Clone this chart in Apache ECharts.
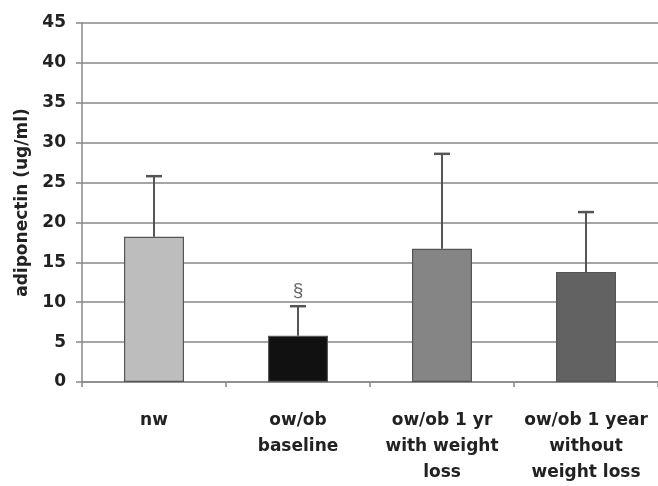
<!DOCTYPE html>
<html>
<head>
<meta charset="utf-8">
<script src="https://cdn.jsdelivr.net/npm/echarts@6/dist/echarts.min.js"></script>
<style>
  html, body { margin: 0; padding: 0; background: #fff; }
  #main { width: 658px; height: 486px; }
</style>
</head>
<body>
<div id="main"></div>
<script>
const groups = ['nw', 'ow/ob\nbaseline', 'ow/ob 1 yr\nwith weight\nloss', 'ow/ob 1 year\nwithout\nweight loss'];
const means = [18.2, 5.8, 16.7, 13.8];
const upper = [25.8, 9.5, 28.6, 21.3];
const signif = ['', '§', '', ''];
const barColors = ['#bdbdbd', '#111111', '#858585', '#626262'];

const dom = document.getElementById('main');
const myChart = echarts.init(dom);

const font = 'DejaVu Sans, sans-serif';

function renderErrorBar(params, api) {
  const i = params.dataIndex;
  const base = api.coord([i, api.value(1)]);
  const top = api.coord([i, api.value(2)]);
  const cap = 8;
  const children = [
    {
      type: 'line',
      shape: { x1: base[0], y1: base[1], x2: top[0], y2: top[1] },
      style: { stroke: '#555', lineWidth: 2 }
    },
    {
      type: 'line',
      shape: { x1: top[0] - cap, y1: top[1], x2: top[0] + cap, y2: top[1] },
      style: { stroke: '#555', lineWidth: 2.5 }
    }
  ];
  if (signif[i]) {
    children.push({
      type: 'text',
      style: {
        text: signif[i], x: top[0], y: top[1] - 6,
        align: 'center', verticalAlign: 'bottom',
        fill: '#666', font: '19px Liberation Sans, Arial, sans-serif'
      }
    });
  }
  return { type: 'group', children: children };
}

myChart.setOption({
  animation: false,
  grid: { left: 82, width: 580, top: 23, bottom: 94 },
  xAxis: {
    type: 'category',
    data: groups,
    axisLine: { lineStyle: { color: '#888', width: 1.5 } },
    axisTick: { show: true, length: 5, lineStyle: { color: '#888', width: 1.5 } },
    axisLabel: {
      interval: 0, margin: 26, color: '#222',
      fontFamily: font, fontWeight: 'bold', fontSize: 17, lineHeight: 26
    }
  },
  yAxis: {
    type: 'value',
    min: 0, max: 45, interval: 5,
    name: 'adiponectin (ug/ml)',
    nameLocation: 'middle',
    nameGap: 50,
    nameTextStyle: { color: '#222', fontFamily: font, fontWeight: 'bold', fontSize: 17 },
    axisLine: { show: true, lineStyle: { color: '#888', width: 1.5 } },
    axisTick: { show: true, length: 6, lineStyle: { color: '#888', width: 1.5 } },
    axisLabel: { margin: 16, color: '#222', fontFamily: font, fontWeight: 'bold', fontSize: 17 },
    splitLine: { lineStyle: { color: '#a5a5a5', width: 2 } }
  },
  series: [
    {
      type: 'bar',
      barWidth: 60,
      data: means.map((v, i) => ({
        value: v,
        itemStyle: { color: barColors[i], borderColor: '#555', borderWidth: 1.2 }
      }))
    },
    {
      type: 'custom',
      renderItem: renderErrorBar,
      data: means.map((v, i) => [i, v, upper[i]]),
      encode: { x: 0, y: [1, 2] },
      z: 3
    }
  ]
});
</script>
</body>
</html>
